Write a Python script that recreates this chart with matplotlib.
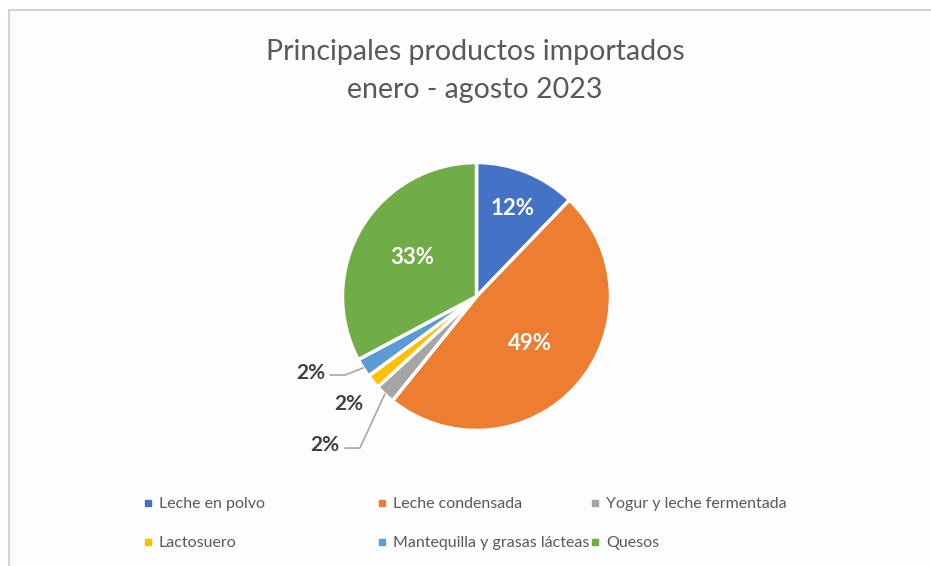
import numpy as np
import matplotlib.pyplot as plt
from matplotlib.patches import Rectangle
from matplotlib.lines import Line2D

plt.rcParams['font.family'] = ['Lato', 'DejaVu Sans']

productos = ["Leche en polvo", "Leche condensada", "Yogur y leche fermentada",
             "Lactosuero", "Mantequilla y grasas lácteas", "Quesos"]
participacion = [12.2, 48.6, 2.4, 1.7, 2.3, 32.8]
etiquetas = ["12%", "49%", "2%", "2%", "2%", "33%"]
colores = ["#4472C4", "#ED7D31", "#A5A5A5", "#FFC000", "#5B9BD5", "#70AD47"]

W, H = 931, 566
fig = plt.figure(figsize=(W / 100, H / 100), dpi=100)
fig.patch.set_facecolor("white")

# marco del grafico (recortado arriba-izquierda como la captura)
fig.patches.append(Rectangle((9 / W, -0.1), 1.2, 1 - 10 / H + 0.1, transform=fig.transFigure,
                             facecolor="#fdfdfd", edgecolor="#d4d4d4", lw=1.5, zorder=-10))

cx, cy, r = 476.5, 296.5, 134
ax = fig.add_axes([(cx - r) / W, (H - cy - r) / H, 2 * r / W, 2 * r / H])
wedges, _ = ax.pie(participacion, colors=colores, startangle=90, counterclock=False,
                   wedgeprops=dict(edgecolor="white", linewidth=2.5))
ax.set_xlim(-1, 1)
ax.set_ylim(-1, 1)
ax.axis("off")

# etiquetas interiores: radio relativo
dentro = {0: 0.71, 1: 0.53, 5: 0.56}
# etiquetas exteriores: (codo, posicion del texto)
fuera = {
    4: ((-0.98, -0.586), (-1.24, -0.573)),
    3: (None, (-0.95, -0.80)),
    2: ((-0.87, -1.131), (-1.13, -1.11)),
}

for i, w in enumerate(wedges):
    ang = np.deg2rad((w.theta1 + w.theta2) / 2)
    if i in dentro:
        rr = dentro[i]
        ax.text(rr * np.cos(ang), rr * np.sin(ang), etiquetas[i], ha="center", va="center",
                fontsize=16, fontweight="bold", color="white")
    else:
        codo, pos = fuera[i]
        if codo is not None:
            ax.plot([np.cos(ang), codo[0], pos[0] + 0.15], [np.sin(ang), codo[1], codo[1]],
                    color="#a6a6a6", lw=1.2, clip_on=False)
        ax.text(pos[0], pos[1], etiquetas[i], ha="center", va="center",
                fontsize=15, fontweight="bold", color="#404040", clip_on=False)

fig.text(475 / W, 1 - 71 / H, "Principales productos importados\nenero - agosto 2023",
         ha="center", va="center", fontsize=20.5, color="#595959", linespacing=1.6)

handles = [Line2D([], [], marker="s", ls="", markersize=5, color=c) for c in colores]
# una leyenda por columna, como en la figura original
columnas = [(0, 3), (1, 4), (2, 5)]
x_col = [143, 377, 590]
for xc, ids in zip(x_col, columnas):
    leg = fig.legend([handles[k] for k in ids], [productos[k] for k in ids],
                     loc="upper left", bbox_to_anchor=(xc / W, 1 - 497 / H), frameon=False,
                     fontsize=11.5, labelcolor="#595959", handlelength=0.6, handletextpad=0.4,
                     labelspacing=1.55, borderpad=0, borderaxespad=0)

fig.savefig("out.png", dpi=100)
